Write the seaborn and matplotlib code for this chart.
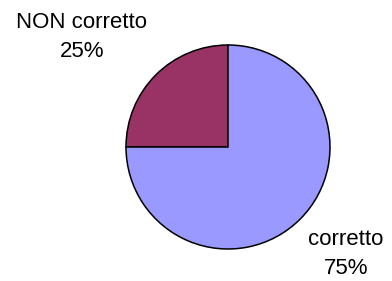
import matplotlib
matplotlib.use("Agg")
import matplotlib.pyplot as plt
import seaborn as sns

labels = ["NON corretto", "corretto"]
values = [25, 75]
colors = ["#993366", "#9999FF"]

sns.set_style("white")
plt.rcParams['font.family'] = ['Liberation Sans', 'DejaVu Sans']

fig = plt.figure(figsize=(3.92, 2.81), dpi=100)
ax = fig.add_axes([0, 0, 1, 1])

# work in pixel units so the pie sits where it does in the original
ax.pie(values, colors=colors, startangle=90, counterclock=True,
       radius=102, center=(228, 134),
       wedgeprops=dict(edgecolor="black", linewidth=1.1))
ax.set_xlim(0, 392)
ax.set_ylim(0, 281)
ax.set_aspect("auto")
ax.axis("off")

label_pos = [(82, 281 - 37), (346, 281 - 254)]
for lab, v, (x, y) in zip(labels, values, label_pos):
    ax.text(x, y, f"{lab}\n{v}%", ha="center", va="center", color="black",
            multialignment="center", fontsize=16, linespacing=1.5)

fig.savefig("out.png", dpi=100, facecolor="white")
